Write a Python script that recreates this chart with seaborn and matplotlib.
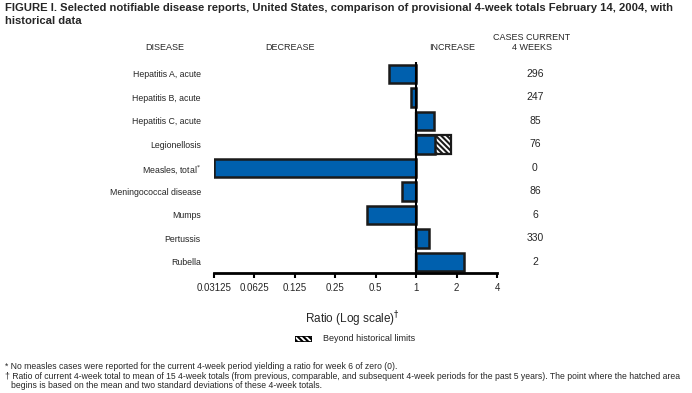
import numpy as np
import pandas as pd
import matplotlib
matplotlib.use("Agg")
import matplotlib.pyplot as plt
from matplotlib.transforms import blended_transform_factory
import seaborn as sns

diseases = ["Hepatitis A, acute", "Hepatitis B, acute", "Hepatitis C, acute",
            "Legionellosis", "Measles, total", "Meningococcal disease",
            "Mumps", "Pertussis", "Rubella"]
ratios = [0.63, 0.91, 1.35, 1.39, 0.03125, 0.78, 0.43, 1.25, 2.28]
beyond_limits = [0, 0, 0, 1.81, 0, 0, 0, 0, 0]
cases = [296, 247, 85, 76, 0, 86, 6, 330, 2]
tick_values = [0.03125, 0.0625, 0.125, 0.25, 0.5, 1, 2, 4]
tick_labels = ["0.03125", "0.0625", "0.125", "0.25", "0.5", "1", "2", "4"]

sns.set_theme(style="white")
plt.rcParams["font.family"] = ["Liberation Sans", "DejaVu Sans"]
plt.rcParams["hatch.linewidth"] = 1.5
plt.rcParams["hatch.color"] = "black"

BLUE = "#0060ae"
HATCH = "\\\\\\\\\\\\"

df = pd.DataFrame({"disease": diseases,
                   "log_ratio": np.log2(ratios),
                   "log_beyond": [np.log2(v) if v > 0 else 0 for v in beyond_limits]})

fig = plt.figure(figsize=(6.92, 3.93), dpi=100)
ax = fig.add_axes([214 / 692, 1 - 273 / 393, 283 / 692, (273 - 62.25) / 393])

# hatched extension (drawn first, then covered by the blue part)
sns.barplot(data=df, x="log_beyond", y="disease", orient="h", ax=ax,
            color="white", edgecolor="#1a1a1a", linewidth=1.6, width=0.8,
            hatch=HATCH, saturation=1)
sns.barplot(data=df, x="log_ratio", y="disease", orient="h", ax=ax,
            color=BLUE, edgecolor="#1a1a1a", linewidth=1.8, width=0.8,
            saturation=1)

ax.set_xlim(np.log2(tick_values[0]), np.log2(tick_values[-1]))
ax.set_ylim(8.47, -0.5)
ax.axvline(0, color="black", lw=1.5, zorder=5)
ax.set_xticks(np.log2(tick_values))
ax.set_xticklabels(tick_labels, fontsize=7)
ax.set_yticks(range(len(diseases)))
ylabels = [d if d != "Measles, total" else "Measles, total$^{*}$" for d in diseases]
ax.set_yticklabels(ylabels, fontsize=6.3)
ax.tick_params(axis="y", length=0, pad=9.5)
ax.tick_params(axis="x", length=3.5, width=1.5, direction="out", bottom=True,
               color="black", pad=4)
for s in ["top", "right", "left"]:
    ax.spines[s].set_visible(False)
ax.spines["bottom"].set_color("black")
ax.spines["bottom"].set_linewidth(2)
ax.set_xlabel("")
ax.set_ylabel("")

# cases column
trans = blended_transform_factory(fig.transFigure, ax.transData)
for i, c in enumerate(cases):
    ax.text(535 / 692, i, str(c), transform=trans,
            ha="center", va="center", fontsize=7.5)

def ftext(x, y, s, **kw):
    fig.text(x / 692, 1 - y / 393, s, **kw)

ftext(5, 8, "FIGURE I. Selected notifiable disease reports, United States, comparison of provisional 4-week totals February 14, 2004, with",
      fontsize=8.1, fontweight="bold", va="center", ha="left")
ftext(5, 21, "historical data", fontsize=8.1, fontweight="bold", va="center", ha="left")
ftext(165, 47, "DISEASE", fontsize=6.5, ha="center", va="center")
ftext(290, 47, "DECREASE", fontsize=6.5, ha="center", va="center")
ftext(452, 47, "INCREASE", fontsize=6.5, ha="center", va="center")
ftext(532, 37, "CASES CURRENT", fontsize=6.5, ha="center", va="center")
ftext(532, 47, "4 WEEKS", fontsize=6.5, ha="center", va="center")
ftext(352, 319, "Ratio (Log scale)$^{\u2020}$", fontsize=8.5, ha="center", va="center")

# legend box
lax = fig.add_axes([295 / 692, 1 - 342 / 393, 17 / 692, 6 / 393])
lax.set_xlim(0, 1)
lax.set_ylim(0, 1)
lax.axis("off")
lax.add_patch(plt.Rectangle((0, 0), 1, 1, facecolor="white", edgecolor="black",
                            hatch=HATCH, lw=1.2))
ftext(323, 338.5, "Beyond historical limits", fontsize=6.5, ha="left", va="center")

ftext(5, 366.5, "* No measles cases were reported for the current 4-week period yielding a ratio for week 6 of zero (0).",
      fontsize=6.2, ha="left", va="center")
ftext(5, 376.5, "\u2020 Ratio of current 4-week total to mean of 15 4-week totals (from previous, comparable, and subsequent 4-week periods for the past 5 years). The point where the hatched area",
      fontsize=6.2, ha="left", va="center")
ftext(11, 386, "begins is based on the mean and two standard deviations of these 4-week totals.",
      fontsize=6.2, ha="left", va="center")

fig.savefig("out.png", dpi=100)
